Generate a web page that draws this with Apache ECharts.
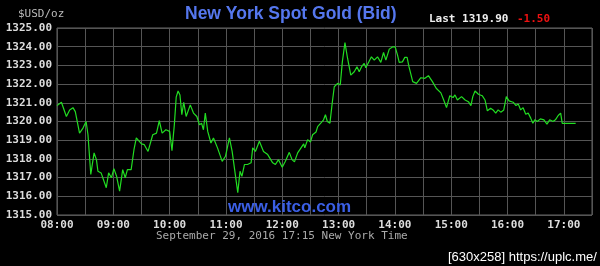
<!DOCTYPE html>
<html>
<head>
<meta charset="utf-8">
<script src="https://cdn.jsdelivr.net/npm/echarts@6/dist/echarts.min.js"></script>
<style>
html,body{margin:0;padding:0;background:#000;}
#c{width:600px;height:266px;}
</style>
</head>
<body>
<div id="c"></div>
<script>
// minutes since 08:00 New York time
var minutes = [0,4.7,10,13.5,17,19.5,24,27.7,31,33,36,39.5,42,43.6,47,52.5,55,58,60.6,63.5,66.7,70,72.7,75,79,82,84.5,90,93,97,102,106,109,112,116,120,122.5,125,127,129,131,133,135,137.6,142,145.4,149,151.8,154,156,158,160.6,164,166.7,171,176,179.5,183.7,186.6,189,192.6,195,197,199.7,203,206.8,208.5,211.4,215.6,220,224.5,229.8,232.7,236,240,243.3,247.5,250.4,253,256.4,260,262.8,264,267,270,272.3,276,277.7,281,284,286,288,290.8,293,295.4,299,301.8,304,306.8,309.6,313,316.7,319.6,322,324.5,327.3,329,332.7,335,338,341.5,345,347.9,350.4,354,357.4,360.3,362.8,364.6,368,370.6,373,375,379,383,387.7,392,395.7,400,404,409,412,415,418.5,422,424,426.6,431,434.8,438.3,441,443,445.4,449,453,456,458.5,462,464.6,467.4,470,472.8,476,478.7,481.6,486,489,491.5,494,496.6,499.4,502,504.7,507,509,511.7,515,518.8,522,524.9,528.4,531,534,536.6,538.3,552.6];
var prices = [1320.85,1321.03,1320.27,1320.62,1320.74,1320.53,1319.38,1319.65,1320.00,1319.29,1317.17,1318.32,1317.96,1317.34,1317.25,1316.46,1317.25,1316.99,1317.48,1317.07,1316.28,1317.43,1316.99,1317.43,1317.43,1318.49,1319.12,1318.80,1318.76,1318.40,1319.29,1319.38,1320.04,1319.38,1319.56,1319.47,1318.44,1319.82,1321.30,1321.63,1321.42,1320.36,1321.03,1320.27,1320.89,1320.45,1320.27,1319.82,1319.91,1319.56,1320.45,1319.47,1318.85,1319.12,1318.59,1317.87,1318.14,1319.12,1318.40,1317.52,1316.19,1317.34,1317.07,1317.70,1317.70,1317.79,1318.59,1318.40,1318.94,1318.40,1318.23,1317.79,1317.70,1317.96,1317.55,1317.87,1318.35,1317.96,1317.84,1318.32,1318.59,1318.80,1318.59,1319.03,1318.90,1319.29,1319.44,1319.73,1319.91,1320.09,1320.36,1320.00,1319.91,1320.89,1321.86,1322.04,1321.95,1323.19,1324.22,1323.37,1322.48,1322.66,1322.93,1322.66,1322.93,1323.11,1322.87,1323.23,1323.46,1323.28,1323.46,1323.16,1323.69,1323.28,1323.87,1323.99,1323.99,1323.55,1323.16,1323.19,1323.43,1323.43,1322.93,1322.13,1322.04,1322.34,1322.31,1322.45,1322.13,1321.78,1321.53,1321.15,1320.74,1321.38,1321.28,1321.42,1321.15,1321.33,1321.15,1321.06,1320.85,1321.33,1321.63,1321.46,1321.38,1321.15,1320.57,1320.71,1320.62,1320.45,1320.62,1320.50,1320.62,1321.33,1321.10,1321.03,1320.85,1320.93,1320.62,1320.74,1320.39,1320.45,1320.18,1319.91,1320.09,1320.00,1320.14,1320.09,1319.86,1320.09,1320.00,1320.09,1320.32,1320.45,1319.90,1319.90];
var xTickLabels = ['08:00','09:00','10:00','11:00','12:00','13:00','14:00','15:00','16:00','17:00'];
var titleText = 'New York Spot Gold (Bid)';
var unitText = '$USD/oz';
var lastText = 'Last 1319.90';
var changeText = '-1.50';
var dateText = 'September 29, 2016 17:15 New York Time';
var siteText = 'www.kitco.com';
var stampText = '[630x258] https://uplc.me/';

var pts = minutes.map(function(m,i){return [m, prices[i]];});
var mono = '"DejaVu Sans Mono", "Liberation Mono", monospace';
var chart = echarts.init(document.getElementById('c'), null, {renderer:'canvas'});
chart.setOption({
  backgroundColor:'#000',
  animation:false,
  grid:{left:57,right:8,top:28,bottom:51,show:true,borderColor:'#666',borderWidth:1,backgroundColor:'transparent'},
  xAxis:{
    type:'value',min:0,max:570,interval:30,
    axisLine:{show:false},axisTick:{show:false},
    splitLine:{show:true,lineStyle:{color:'#555',width:1}},
    axisLabel:{
      color:'#ddd',fontFamily:mono,fontWeight:'bold',fontSize:11,margin:5,
      showMaxLabel:false,
      formatter:function(v){return (v%60===0)? xTickLabels[v/60] : '';}
    }
  },
  yAxis:{
    type:'value',min:1315,max:1325,interval:1,
    axisLine:{show:false},axisTick:{show:false},
    splitLine:{show:true,lineStyle:{color:'#555',width:1}},
    axisLabel:{color:'#ddd',fontFamily:mono,fontWeight:'bold',fontSize:11,margin:5,
      formatter:function(v){return v.toFixed(2);}}
  },
  series:[{
    type:'line',data:pts,showSymbol:false,
    lineStyle:{color:'#22dd22',width:1.2},
    z:3
  }],
  graphic:[
    {type:'text',left:18,top:9,style:{text:unitText,fill:'#bbb',font:'11px '+mono}},
    {type:'text',left:185,top:5,style:{text:titleText,fill:'#5577ee',font:'bold 17.5px "Liberation Sans", Arial, sans-serif'}},
    {type:'text',left:429,top:14,style:{text:lastText,fill:'#eee',font:'bold 11px '+mono}},
    {type:'text',left:517,top:14,style:{text:changeText,fill:'#ee1111',font:'bold 11px '+mono}},
    {type:'text',left:228,top:199,z:10,style:{text:siteText,fill:'#3b5fe6',font:'bold 17px "Liberation Sans", Arial, sans-serif'}},
    {type:'text',left:156,top:231,style:{text:dateText,fill:'#aaa',font:'11px '+mono}},
    {type:'text',left:448,top:251,style:{text:stampText,fill:'#fff',font:'13px "Liberation Sans", sans-serif'}}
  ]
});
</script>
</body>
</html>
